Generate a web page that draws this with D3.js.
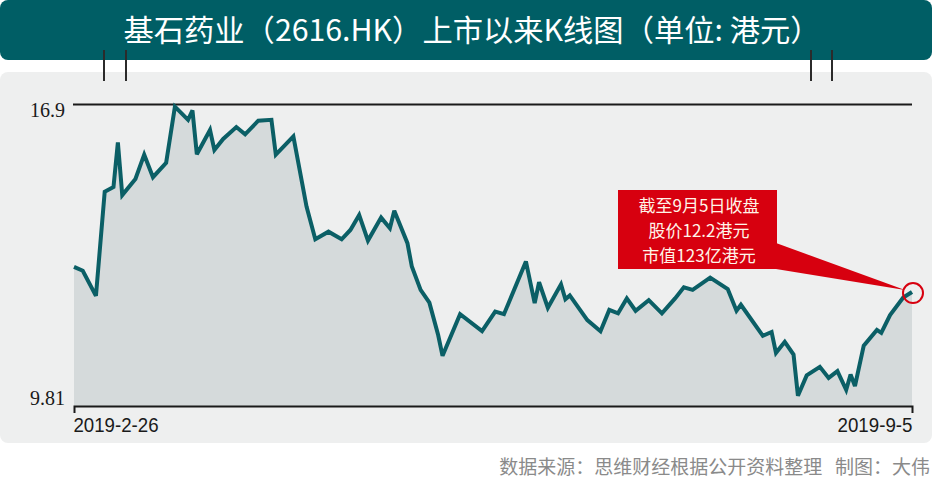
<!DOCTYPE html>
<html>
<head>
<meta charset="utf-8">
<script src="https://cdn.jsdelivr.net/npm/d3@7"></script>
<style>
    html, body { margin: 0; padding: 0; background: #ffffff; }
    svg { display: block; }
</style>
</head>
<body>
<div id="chart"></div>
<script>
// K-line (closing price) of 2616.HK since listing
let dates = [
    "2019-02-26", "2019-02-28", "2019-03-03", "2019-03-05", "2019-03-07", "2019-03-08", "2019-03-09", "2019-03-12", "2019-03-14", "2019-03-16",
    "2019-03-19", "2019-03-21", "2019-03-24", "2019-03-25", "2019-03-26", "2019-03-29", "2019-03-30", "2019-04-01", "2019-04-04", "2019-04-06",
    "2019-04-09", "2019-04-12", "2019-04-13", "2019-04-17", "2019-04-19", "2019-04-20", "2019-04-22", "2019-04-25", "2019-04-28", "2019-04-30",
    "2019-05-02", "2019-05-04", "2019-05-07", "2019-05-09", "2019-05-10", "2019-05-13", "2019-05-14", "2019-05-16", "2019-05-18", "2019-05-20",
    "2019-05-21", "2019-05-25", "2019-05-30", "2019-06-02", "2019-06-04", "2019-06-09", "2019-06-11", "2019-06-12", "2019-06-14", "2019-06-17",
    "2019-06-18", "2019-06-19", "2019-06-23", "2019-06-26", "2019-06-28", "2019-06-30", "2019-07-02", "2019-07-04", "2019-07-07", "2019-07-10",
    "2019-07-13", "2019-07-15", "2019-07-17", "2019-07-21", "2019-07-25", "2019-07-27", "2019-07-28", "2019-08-02", "2019-08-04", "2019-08-05",
    "2019-08-07", "2019-08-09", "2019-08-10", "2019-08-12", "2019-08-15", "2019-08-17", "2019-08-19", "2019-08-21", "2019-08-22", "2019-08-23",
    "2019-08-25", "2019-08-28", "2019-08-29", "2019-08-31", "2019-09-03", "2019-09-05"
];
let prices = [
    13.08, 12.99, 12.40, 14.85, 14.96, 16.01, 14.77, 15.15, 15.72, 15.19,
    15.53, 16.85, 16.54, 16.76, 15.73, 16.30, 15.83, 16.09, 16.37, 16.20,
    16.52, 16.54, 15.72, 16.15, 15.05, 14.50, 13.73, 13.91, 13.73, 13.95,
    14.30, 13.70, 14.24, 13.99, 14.40, 13.64, 13.09, 12.54, 12.24, 11.48,
    10.99, 11.97, 11.57, 12.03, 11.97, 13.21, 12.23, 12.72, 12.12, 12.67,
    12.32, 12.41, 11.83, 11.57, 12.07, 11.99, 12.34, 12.05, 12.30, 11.99,
    12.34, 12.60, 12.54, 12.83, 12.56, 12.05, 12.19, 11.46, 11.55, 11.06,
    11.32, 11.02, 10.05, 10.53, 10.73, 10.47, 10.63, 10.19, 10.55, 10.28,
    11.23, 11.60, 11.53, 11.95, 12.36, 12.49
];
let yTicks = [9.81, 16.9];
let xTickLabels = ["2019-2-26", "2019-9-5"];
let titleText = "基石药业（2616.HK）上市以来K线图（单位: 港元）";
let noteLines = ["截至9月5日收盘", "股价12.2港元", "市值123亿港元"];
let sourceText = "数据来源：思维财经根据公开资料整理\u00a0\u00a0\u00a0制图：大伟";

let width = 934, height = 482;
let teal = "#005e65", red = "#d7000f";

let parse = d3.timeParse("%Y-%m-%d");
let dataset = dates.map(function (d, i) {
    return {date: parse(d), value: prices[i]};
});

let svg = d3.select("#chart").append("svg")
    .attr("width", width)
    .attr("height", height);

// background shapes
svg.append("rect")
    .attr("x", 0).attr("y", 72)
    .attr("width", 932).attr("height", 371)
    .attr("rx", 8)
    .attr("fill", "#eeefef");

svg.append("rect")
    .attr("x", 0).attr("y", 0)
    .attr("width", 932).attr("height", 60)
    .attr("rx", 8)
    .attr("fill", teal);

svg.selectAll(".hanger")
    .data([104, 126, 811, 832])
    .enter().append("line")
    .attr("class", "hanger")
    .attr("x1", function (d) { return d; })
    .attr("x2", function (d) { return d; })
    .attr("y1", 50).attr("y2", 81)
    .attr("stroke", "#2b2b2b")
    .attr("stroke-width", 2);

svg.append("text")
    .attr("x", 472).attr("y", 41)
    .attr("text-anchor", "middle")
    .attr("font-family", "'Noto Sans CJK SC', 'Noto Sans', sans-serif")
    .attr("font-weight", 400)
    .attr("font-size", 30)
    .attr("textLength", 697)
    .attr("lengthAdjust", "spacingAndGlyphs")
    .attr("fill", "#ffffff")
    .text(titleText);

// scales
let x = d3.scaleTime()
    .domain(d3.extent(dataset, function (d) { return d.date; }))
    .range([74, 912]);

let y = d3.scaleLinear()
    .domain([yTicks[0], yTicks[1]])
    .range([406, 104.5]);

// area + line
let area = d3.area()
    .x(function (d) { return x(d.date); })
    .y0(y(yTicks[0]))
    .y1(function (d) { return y(d.value); });

let line = d3.line()
    .x(function (d) { return x(d.date); })
    .y(function (d) { return y(d.value); });

svg.append("path")
    .datum(dataset)
    .attr("d", area)
    .attr("fill", "#d5dadb");

// top gridline
svg.append("line")
    .attr("x1", 73).attr("x2", 912)
    .attr("y1", y(yTicks[1])).attr("y2", y(yTicks[1]))
    .attr("stroke", "#1a1a1a")
    .attr("stroke-width", 2);

svg.append("path")
    .datum(dataset)
    .attr("d", line)
    .attr("fill", "none")
    .attr("stroke", "#0b5f66")
    .attr("stroke-width", 4)
    .attr("stroke-linejoin", "miter")
    .attr("stroke-miterlimit", 3);

// x axis (baseline with end ticks)
let xAxis = d3.axisBottom(x)
    .tickValues(x.domain())
    .tickSize(0)
    .tickSizeOuter(7)
    .tickPadding(15)
    .tickFormat(function (d, i) { return xTickLabels[i]; });

let gx = svg.append("g")
    .attr("transform", "translate(0," + y(yTicks[0]) + ")")
    .call(xAxis);

gx.select(".domain")
    .attr("stroke", "#1a1a1a")
    .attr("stroke-width", 2);

gx.selectAll(".tick text")
    .attr("font-family", "'Liberation Sans', sans-serif")
    .attr("font-size", 20)
    .attr("fill", "#1a1a1a")
    .attr("dy", "0.56em")
    .attr("textLength", function (d, i) { return i === 0 ? 85 : 75; })
    .attr("lengthAdjust", "spacingAndGlyphs")
    .attr("text-anchor", function (d, i) { return i === 0 ? "start" : "end"; })
    .attr("dx", function (d, i) { return i === 0 ? -1 : 0; });

// y labels
let yAxis = d3.axisLeft(y)
    .tickValues(yTicks)
    .tickSize(0)
    .tickPadding(8)
    .tickFormat(function (d) { return String(d); });

let gy = svg.append("g")
    .attr("transform", "translate(73,0)")
    .call(yAxis);

gy.select(".domain").remove();

gy.selectAll(".tick text")
    .attr("font-family", "'Liberation Serif', 'DejaVu Serif', serif")
    .attr("font-size", 20)
    .attr("fill", "#1a1a1a")
    .attr("dy", function (d, i) { return i === 0 ? "-0.1em" : "0.62em"; });

// callout
let last = dataset[dataset.length - 1];
let cx = x(last.date), cy = y(last.value);

svg.append("polygon")
    .attr("points", [[776, 243], [776, 269], [cx - 7, cy - 2]].join(" "))
    .attr("fill", red);

svg.append("rect")
    .attr("x", 618).attr("y", 190)
    .attr("width", 159).attr("height", 79)
    .attr("fill", red);

svg.selectAll(".note")
    .data(noteLines)
    .enter().append("text")
    .attr("class", "note")
    .attr("x", 699)
    .attr("y", function (d, i) { return 212 + i * 25; })
    .attr("text-anchor", "middle")
    .attr("font-family", "'Noto Sans CJK SC', 'Noto Sans', sans-serif")
    .attr("font-size", 17)
    .attr("fill", "#fff4e8")
    .text(function (d) { return d; });

svg.append("circle")
    .attr("cx", cx + 1).attr("cy", cy + 1)
    .attr("r", 10)
    .attr("fill", "none")
    .attr("stroke", red)
    .attr("stroke-width", 2);

// source
svg.append("text")
    .attr("x", 930).attr("y", 474)
    .attr("text-anchor", "end")
    .attr("font-family", "'Noto Sans CJK SC', 'Noto Sans', sans-serif")
    .attr("font-size", 19)
    .attr("fill", "#8a8a8a")
    .text(sourceText);
</script>
</body>
</html>
